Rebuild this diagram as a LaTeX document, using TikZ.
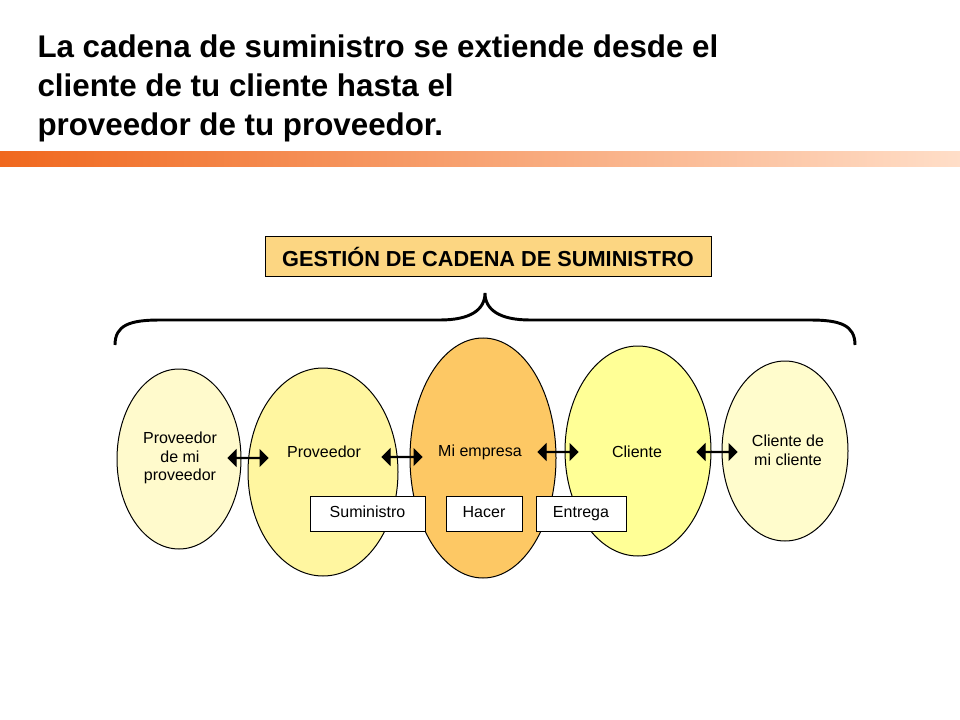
\documentclass[tikz,border=0pt]{standalone}
\usepackage{fontspec}
\setmainfont{Liberation Sans}
\usetikzlibrary{shapes.arrows}
\definecolor{barorange}{RGB}{240,104,30}
\definecolor{barpeach}{RGB}{255,222,200}
\definecolor{headfill}{RGB}{252,214,130}
\tikzset{every picture/.style={line width=0.75pt}}
\tikzset{
  blob/.style={draw, line width=0.75pt},
  lbl/.style={font=\fontsize{12}{14}\selectfont, align=center, inner sep=0.75pt},
  dbl/.style={double arrow, fill=black, draw=black, minimum width=12, minimum height=30, double arrow head extend=5.25, inner sep=0pt},
  stagebox/.style={draw, fill=white, font=\fontsize{12}{14}\selectfont, minimum height=26.25, inner sep=0pt, text height=8.5pt, text depth=2.5pt}
}
\begin{document}
\begin{tikzpicture}[x=0.75pt,y=0.75pt,yscale=-1,xscale=1]
\useasboundingbox (0,0) rectangle (960,720);

% Title
\node [anchor=north west, align=left, font=\bfseries\fontsize{23.5}{29.3}\selectfont, inner sep=0pt] (title) at (37,34)
  {La cadena de suministro se extiende desde el\\cliente de tu cliente hasta el\\proveedor de tu proveedor.};
% Bar
\shade [left color=barorange, right color=barpeach] (0,152) rectangle (960,167);

% Heading
\node [draw, fill=headfill, font=\bfseries\fontsize{16.3}{18}\selectfont, minimum width=334.5, minimum height=30] (head) at (488,257) {GESTIÓN DE CADENA DE SUMINISTRO};

% Brace
\draw [line width=2.2pt] (115,345) .. controls (115,325) and (130,320) .. (160,320) -- (440,320) .. controls (470,320) and (485,310) .. (485,293)
  .. controls (485,310) and (500,320) .. (530,320) -- (810,320) .. controls (840,320) and (855,325) .. (855,345);

% Ellipses
\draw [blob, fill={rgb, 255:red, 255; green, 250; blue, 204}] (179,459) ellipse (62 and 90);
\draw [blob, fill={rgb, 255:red, 255; green, 246; blue, 160}] (323,472) ellipse (75 and 104);
\draw [blob, fill={rgb, 255:red, 253; green, 200; blue, 100}] (483,458) ellipse (73 and 120);
\draw [blob, fill={rgb, 255:red, 255; green, 255; blue, 150}] (638,451) ellipse (73 and 105);
\draw [blob, fill={rgb, 255:red, 255; green, 252; blue, 204}] (785,451) ellipse (63 and 90);

% Labels
\node [lbl] (p2) at (180,458) {Proveedor\\de mi\\proveedor};
\node [lbl] (p1) at (324,452) {Proveedor};
\node [lbl] (me) at (480,452) {Mi empresa};
\node [lbl] (c1) at (637,452) {Cliente};
\node [lbl] (c2) at (788,450) {Cliente de\\mi cliente};

% Arrows
\node [dbl] (a1) at (248,458) {};
\node [dbl] (a2) at (402,457) {};
\node [dbl] (a3) at (558,452) {};
\node [dbl] (a4) at (717,452) {};

% Stages
\node [stagebox, minimum width=86.25] (sum) at (367.5,513.5) {Suministro};
\node [stagebox, minimum width=57] (hac) at (484,513.5) {Hacer};
\node [stagebox, minimum width=67.5] (ent) at (581,513.5) {Entrega};

\end{tikzpicture}
\end{document}
